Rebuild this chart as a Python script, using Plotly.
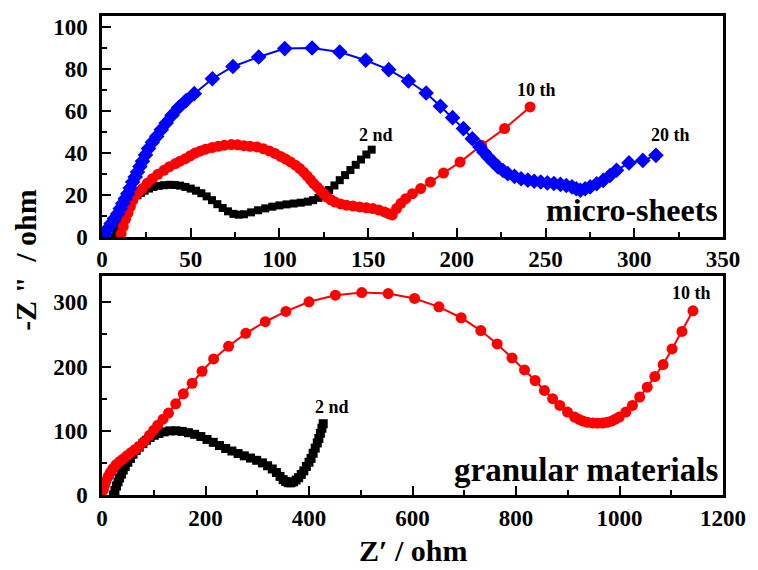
import plotly.graph_objects as go

FONT = "Liberation Serif"

# ---------------- micro-sheets (top panel) ----------------
ms_2nd_x = [7, 8, 9, 10, 11, 12, 13.5, 15, 16.5, 18, 20, 22, 24, 26.5, 29, 32, 35, 38, 41, 44, 47,
            50, 53, 56, 59, 62, 65, 68, 71, 74, 77, 80, 84, 88, 92, 96, 100, 104, 108, 112, 116,
            119, 122, 125, 128, 131, 134, 137, 140, 143, 146, 149, 152]
ms_2nd_y = [0, 2.5, 5, 7.5, 10, 12, 14, 15.5, 17, 18.5, 19.8, 21, 22, 23, 23.8, 24.3, 24.6, 24.8,
            24.7, 24.4, 23.8, 23, 22, 20.8, 19.3, 17.5, 15.6, 13.8, 12.2, 11, 10.6, 10.8, 11.7,
            12.7, 13.6, 14.4, 15, 15.5, 15.9, 16.3, 16.8, 17.5, 18.6, 20.3, 22.3, 24.5, 27, 29.4,
            31.8, 34.3, 36.8, 39.2, 41.5]

ms_10th_x = [10.8, 12, 13.3, 14.7, 16, 17.3, 19, 20.8, 22.8, 25.5, 28.4, 31.5, 34.9, 38, 41.4, 44,
             47, 49.8, 52.5, 55.5, 58.4, 62, 65.5, 69, 72.9, 76.5, 80, 83.5, 87.4, 91, 94.3, 97.5,
             100.7, 103.5, 106.3, 109, 111.5, 113.6, 115.6, 117.5, 119.3, 121.2, 123, 125, 126.7,
             129, 131.3, 134.5, 137.8, 141.5, 145.2, 149, 152.7, 156, 159.2, 161.5, 163.6, 166,
             168.5, 171.2, 175, 179.6, 185.1, 192.5, 201.8, 213.9, 226.9, 241.3]
ms_10th_y = [1.6, 5, 8.5, 11.5, 14.5, 17.4, 20, 21.5, 23, 25.5, 27.7, 29.8, 31.7, 33.4, 34.9, 36,
             37.2, 38.6, 39.9, 40.9, 41.7, 42.5, 43.1, 43.6, 43.9, 43.8, 43.4, 43.1, 42.8, 41.9,
             40.9, 39.7, 38.3, 37, 35.6, 34.1, 32.5, 30.8, 29, 27.2, 25.4, 23.8, 22.2, 20.5, 19,
             17.7, 16.6, 15.7, 15.1, 14.7, 14.3, 13.9, 13.5, 12.8, 11.9, 11.1, 10.5, 13.5, 16,
             18.2, 20.6, 23, 26.1, 30.4, 35.6, 43.6, 51.5, 61.8]

ms_20th_x = [0.5, 1.5, 3.3, 5.2, 7, 8.9, 10.3, 11.7, 13.1, 14.5, 15.9, 17.3, 18.7, 20, 21.4, 22.8,
             24.5, 26.2, 28.4, 30.8, 33.4, 36.2, 39.5, 43.2, 47.4, 52, 62.2, 73.8, 88.3, 103,
             118.4, 134, 148.6, 161.6, 172.7, 182.7, 190.7, 197.6, 203.7, 208.7, 213, 215.3,
             217.6, 220.4, 223.2, 226, 228.7, 232.5, 236.2, 240, 243.6, 247.3, 251, 254.7, 258.4,
             261.7, 264.9, 267.3, 269.6, 272.3, 275.1, 278.8, 282.5, 286.3, 290, 297, 304.8, 312.2]
ms_20th_y = [0, 1.6, 4, 6.4, 8.8, 11.1, 13.5, 15.9, 18.2, 20.6, 23.3, 26.1, 28.5, 30.9, 33.5, 36,
             39, 42, 45, 47.8, 51, 54.2, 57.9, 61.5, 64.8, 68.1, 75.2, 81, 85.5, 89.5, 89.8, 87.9,
             84, 79.5, 74.1, 68.4, 62.1, 56.7, 51.5, 46.7, 42.8, 40.3, 38, 35.6, 33.3, 31.6, 30.1,
             28.8, 27.7, 27, 26.5, 26.1, 25.7, 25.4, 25, 24.5, 23.8, 22.9, 22.2, 22.9, 23.8, 25.3,
             26.9, 29.2, 31.7, 35.2, 36.4, 38.8]

# ---------------- granular materials (bottom panel) ----------------
gm_2nd_x = [22, 25, 28, 31, 34, 37.5, 41, 45, 50, 55, 60, 66, 72, 79, 86, 93, 101, 110, 120, 131,
            143, 155, 167, 179, 191, 203, 215, 227, 239, 251, 263, 275, 287, 299, 310, 320, 329,
            337, 344, 350, 355, 360, 365, 370, 375, 380, 385, 390, 395, 400, 404, 408, 412, 416,
            419, 422, 425, 427.5]
gm_2nd_y = [0, 7, 14, 20.5, 26.5, 32.5, 38.8, 44.5, 51, 57, 63.5, 69.5, 74.5, 80, 85.3, 89.5, 93,
            95.8, 98.3, 99.8, 100, 99, 97, 94.5, 91, 86.5, 82, 77, 72.4, 68.5, 64.5, 61, 57.5, 54,
            50, 45.5, 40.5, 35, 29, 24, 21, 19.2, 19, 20.5, 23.3, 27, 32, 37.5, 44.5, 51, 57, 65,
            73, 81, 88, 96, 104, 111]

gm_10th_x = [2.5, 5, 8, 12, 16, 21, 27, 34, 40.7, 48, 56, 64, 72, 81, 91.7, 100, 107.5, 118, 128.5,
             142.5, 157.2, 174.3, 193.4, 215.7, 244.6, 277.9, 315.5, 355.4, 400, 451, 502, 553,
             604, 651, 694, 732, 763.6, 792.3, 816.4, 837, 854.9, 870.8, 884.8, 899.5, 913.3, 921,
             929.3, 938, 948.4, 958, 967.5, 976, 984.7, 992, 999.5, 1012.3, 1025, 1039, 1053.6,
             1068.3, 1084.3, 1101.6, 1120.7, 1142]
gm_10th_y = [7.8, 15, 22, 29, 35, 41, 47, 52, 56, 61, 66, 71, 76, 83, 93, 101, 108.5, 118, 127.6,
             142, 157.6, 174, 192.7, 211.9, 231.5, 251.7, 269.8, 285.8, 300.8, 311.1, 315.2, 313.6,
             306, 293, 276, 256, 235.2, 213.4, 194.8, 178.3, 162.8, 149.9, 139.5, 129.1, 121.4,
             118, 115.2, 113.3, 112.1, 111.8, 112.1, 113.3, 115.2, 118, 121.4, 129.1, 139.5, 152.4,
             167.9, 184.5, 203.1, 227.4, 254.7, 286.8]

top_xticks = [0, 50, 100, 150, 200, 250, 300, 350]
top_yticks = [0, 20, 40, 60, 80, 100]
bot_xticks = [0, 200, 400, 600, 800, 1000, 1200]
bot_yticks = [0, 100, 200, 300]

fig = go.Figure()

def add(x, y, color, symbol, size, xa, ya):
    fig.add_trace(go.Scatter(x=x, y=y, mode="lines+markers", xaxis=xa, yaxis=ya,
                             line=dict(color=color, width=2),
                             marker=dict(color=color, symbol=symbol, size=size, line=dict(width=0)),
                             showlegend=False))

add(ms_2nd_x, ms_2nd_y, "#000000", "square", 8, "x", "y")
add(ms_10th_x, ms_10th_y, "#ff0000", "circle", 11, "x", "y")
add(ms_20th_x, ms_20th_y, "#0000ff", "diamond", 12, "x", "y")
add(gm_2nd_x, gm_2nd_y, "#000000", "square", 9, "x2", "y2")
add(gm_10th_x, gm_10th_y, "#ff0000", "circle", 11, "x2", "y2")

tickfont = dict(family=FONT, size=23, color="black", weight="bold")

def axis(rng, ticks, minor_dtick, domain, anchor, **kw):
    return dict(range=rng, tickvals=ticks, ticktext=[str(t) for t in ticks], domain=domain,
                anchor=anchor, showline=True, linewidth=2.5, linecolor="black", mirror=True,
                ticks="inside", ticklen=9, tickwidth=2, tickcolor="black",
                minor=dict(dtick=minor_dtick, ticks="inside", ticklen=5, tickwidth=2,
                           tickcolor="black", showgrid=False),
                showgrid=False, zeroline=False, tickfont=tickfont, **kw)

y_top0 = (495 - 237) / 479
y_bot1 = (495 - 276) / 479

fig.update_layout(
    width=758, height=570,
    margin=dict(l=102, r=28, t=16, b=75),
    paper_bgcolor="white", plot_bgcolor="white",
    xaxis=axis([0, 350], top_xticks, 25, [0, 1], "y", ticklabelstandoff=0),
    yaxis=axis([0, 105], top_yticks, 10, [y_top0, 1], "x", ticklabelstandoff=7),
    xaxis2=axis([0, 1200], bot_xticks, 100, [0, 1], "y2", ticklabelstandoff=1),
    yaxis2=axis([0, 341], bot_yticks, 50, [0, y_bot1], "x2", ticklabelstandoff=7),
)

lab = dict(family=FONT, color="black", weight="bold")
ann = [
    dict(text="2 nd", x=154.6, y=48.3, xref="x", yref="y", font=dict(size=18, **lab)),
    dict(text="10 th", x=245, y=70, xref="x", yref="y", font=dict(size=18, **lab)),
    dict(text="20 th", x=320.5, y=48.3, xref="x", yref="y", font=dict(size=18, **lab)),
    dict(text="2 nd", x=445, y=137, xref="x2", yref="y2", font=dict(size=18, **lab)),
    dict(text="10 th", x=1139.5, y=315, xref="x2", yref="y2", font=dict(size=18, **lab)),
    dict(text="micro-sheets", x=(727 - 102) / 628, y=(495 - 230) / 479, xref="paper",
         yref="paper", xanchor="right", yanchor="bottom", font=dict(size=32, **lab)),
    dict(text="granular materials", x=(727 - 102) / 628, y=(495 - 490) / 479, xref="paper",
         yref="paper", xanchor="right", yanchor="bottom", font=dict(size=33, **lab)),
    dict(text="Z\u2032 / ohm", x=(416 - 102) / 628, y=(495 - 550) / 479, xref="paper",
         yref="paper", xanchor="center", yanchor="middle", font=dict(size=30, **lab)),
    dict(text="-Z \"\u00a0\u00a0/ ohm", x=(24 - 102) / 628, y=(495 - 260) / 479, xref="paper",
         yref="paper", xanchor="center", yanchor="middle", textangle=-90,
         font=dict(size=30, **lab)),
]
for a in ann:
    a.setdefault("showarrow", False)
    if "xanchor" not in a:
        a["xanchor"] = "center"
        a["yanchor"] = "middle"
fig.update_layout(annotations=ann)

fig.write_html("out.html")
